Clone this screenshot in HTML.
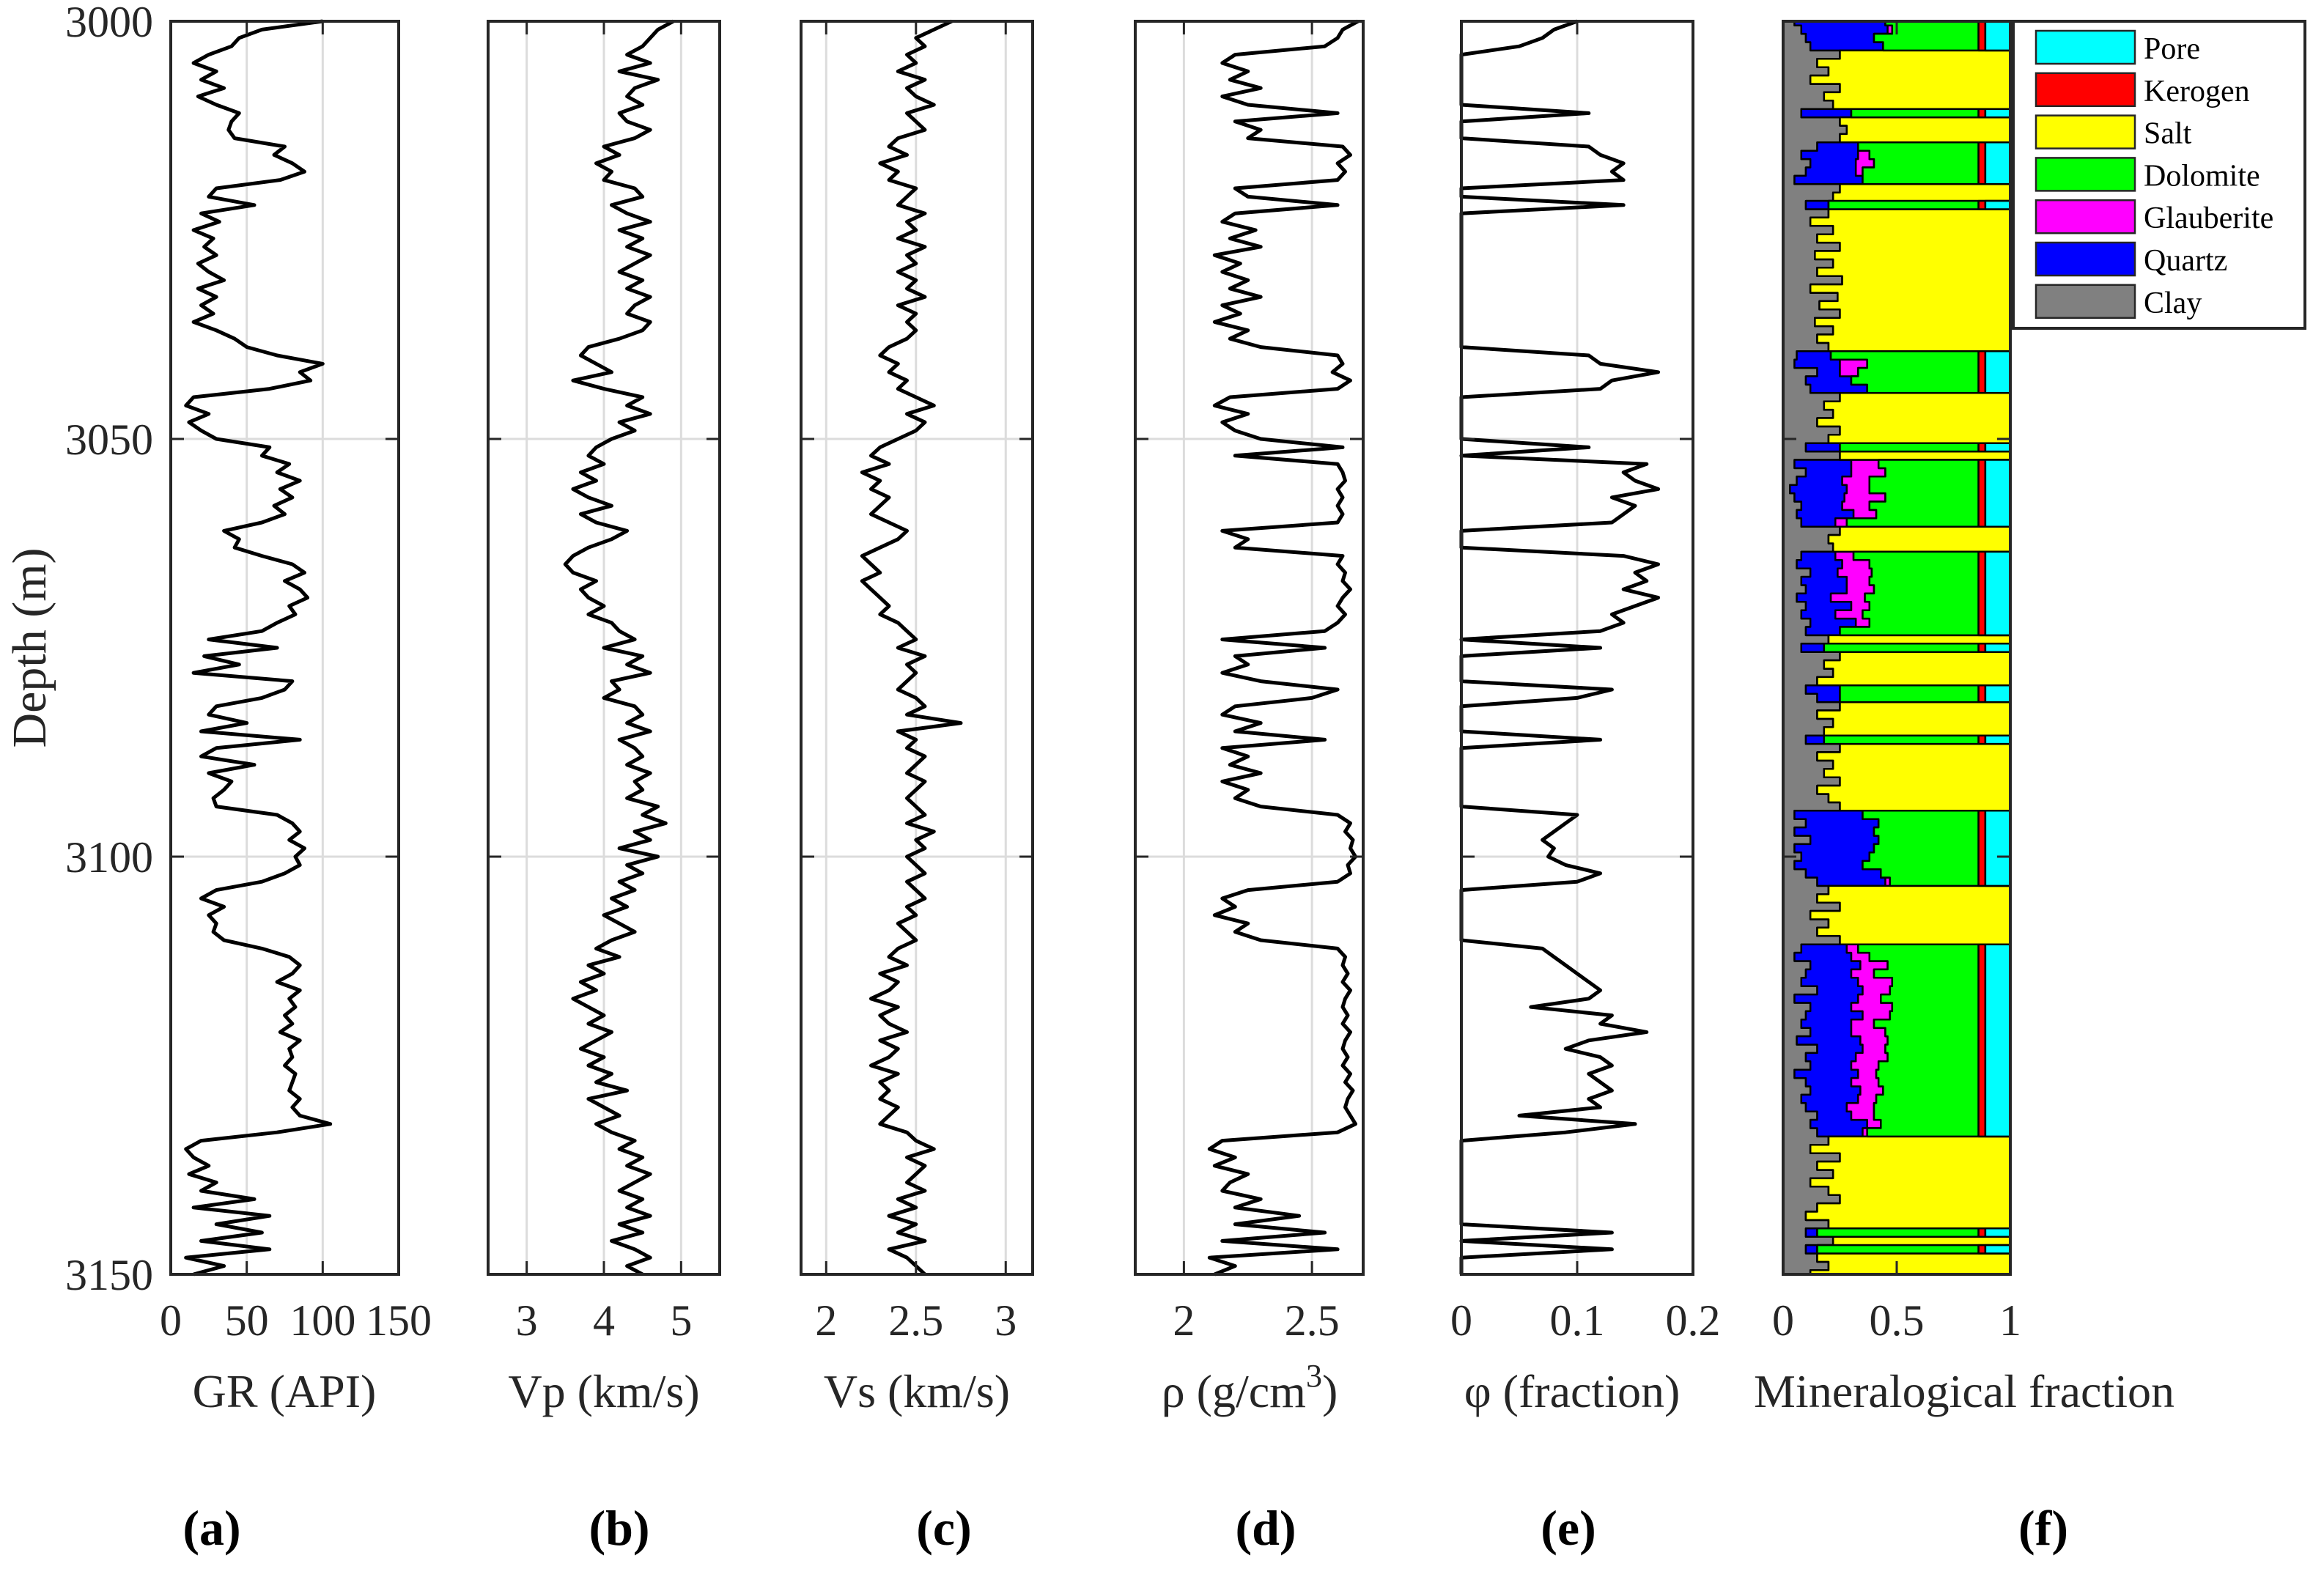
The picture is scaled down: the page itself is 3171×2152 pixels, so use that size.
<!DOCTYPE html>
<html><head><meta charset="utf-8"><style>
html,body{margin:0;padding:0;background:#fff;}
svg{display:block;font-family:"Liberation Serif","Times New Roman",serif;}
</style></head>
<body>
<svg id="fig" width="3171" height="2152" viewBox="0 0 3171 2152" xmlns="http://www.w3.org/2000/svg"></svg>
<script>
// ---- data (1 m sampling, 3000..3150 m) ----
const depthStart = 3000, depthEnd = 3150;
const grValues = [100,60,45,40,25,15,30,20,35,18, 30,45,40,38,42,75,68,80,88,72, 30,25,55,20,32,15,28,22,30,18, 25,35,18,30,20,28,15,30,42,50,
 70,100,85,92,65,15,10,25,12,20, 30,65,60,78,70,85,72,80,68,75, 60,35,45,42,60,80,88,75,85,90, 78,82,70,60,25,70,22,45,15,80,
 75,60,30,25,50,20,85,30,20,55, 25,40,35,28,30,70,80,85,78,88, 82,85,75,60,30,20,35,25,30,28, 35,60,78,85,80,70,85,78,82,75,
 80,72,85,78,80,75,82,80,78,85, 80,85,105,70,20,10,15,25,12,30, 20,55,15,65,30,60,20,65,10,35, 15];
const vpValues = [4.9,4.7,4.6,4.5,4.3,4.6,4.2,4.7,4.4,4.3, 4.5,4.2,4.3,4.6,4.4,4.0,4.2,3.9,4.1,4.0, 4.4,4.5,4.1,4.3,4.6,4.2,4.5,4.3,4.6,4.4,
 4.2,4.5,4.3,4.6,4.4,4.3,4.6,4.5,4.2,3.8, 3.7,3.9,4.1,3.6,4.0,4.5,4.3,4.6,4.2,4.4, 4.1,3.9,3.8,4.0,3.7,3.9,3.6,3.8,4.1,3.7,
 3.9,4.3,4.1,3.8,3.6,3.5,3.6,3.9,3.7,3.8, 4.0,3.8,4.1,4.2,4.4,4.0,4.5,4.3,4.6,4.1, 4.2,4.0,4.4,4.5,4.3,4.6,4.2,4.4,4.5,4.3,
 4.6,4.4,4.5,4.3,4.7,4.5,4.8,4.4,4.6,4.2, 4.7,4.3,4.5,4.2,4.4,4.1,4.3,4.0,4.2,4.4, 4.1,3.9,4.2,3.8,4.0,3.7,3.9,3.6,3.8,4.0,
 3.8,4.1,3.9,3.7,4.0,3.8,4.1,3.9,4.3,3.8, 4.0,4.2,3.9,4.1,4.4,4.2,4.5,4.3,4.6,4.4, 4.2,4.5,4.3,4.6,4.2,4.5,4.1,4.4,4.6,4.3, 4.5];
const vsValues = [2.7,2.6,2.5,2.55,2.45,2.5,2.4,2.55,2.45,2.5, 2.6,2.45,2.5,2.55,2.4,2.35,2.45,2.3,2.4,2.35, 2.5,2.45,2.4,2.55,2.45,2.5,2.4,2.55,2.45,2.5,
 2.4,2.5,2.45,2.55,2.4,2.5,2.45,2.5,2.45,2.35, 2.3,2.4,2.35,2.45,2.4,2.5,2.6,2.45,2.55,2.5, 2.4,2.3,2.25,2.35,2.2,2.3,2.25,2.35,2.3,2.25,
 2.35,2.45,2.4,2.3,2.2,2.25,2.3,2.2,2.25,2.3, 2.35,2.3,2.4,2.45,2.5,2.4,2.55,2.45,2.5,2.45, 2.4,2.5,2.55,2.45,2.75,2.4,2.5,2.45,2.55,2.5,
 2.45,2.55,2.5,2.45,2.5,2.55,2.45,2.6,2.5,2.55, 2.45,2.5,2.55,2.45,2.5,2.55,2.45,2.5,2.4,2.45, 2.5,2.4,2.35,2.45,2.3,2.4,2.35,2.25,2.4,2.3,
 2.35,2.45,2.3,2.4,2.35,2.25,2.4,2.3,2.35,2.3, 2.4,2.35,2.3,2.45,2.5,2.6,2.45,2.55,2.5,2.45, 2.55,2.4,2.5,2.35,2.5,2.4,2.55,2.35,2.45,2.5, 2.55];
const rhoValues = [2.68,2.62,2.6,2.55,2.2,2.15,2.25,2.18,2.3,2.15, 2.25,2.6,2.2,2.3,2.25,2.62,2.65,2.6,2.63,2.6, 2.2,2.25,2.6,2.2,2.15,2.28,2.18,2.3,2.12,2.22,
 2.15,2.25,2.18,2.3,2.15,2.22,2.12,2.25,2.18,2.3, 2.6,2.62,2.58,2.65,2.6,2.18,2.12,2.25,2.15,2.2, 2.3,2.62,2.2,2.6,2.62,2.63,2.6,2.62,2.6,2.62,
 2.6,2.15,2.25,2.2,2.62,2.6,2.63,2.62,2.65,2.62, 2.6,2.63,2.6,2.55,2.15,2.55,2.2,2.25,2.15,2.3, 2.6,2.5,2.2,2.15,2.3,2.2,2.55,2.15,2.25,2.18,
 2.3,2.15,2.25,2.2,2.3,2.6,2.65,2.63,2.66,2.65, 2.67,2.64,2.65,2.6,2.25,2.15,2.2,2.12,2.25,2.2, 2.3,2.6,2.63,2.62,2.64,2.62,2.65,2.63,2.62,2.64,
 2.62,2.65,2.63,2.62,2.64,2.62,2.65,2.63,2.66,2.64, 2.63,2.65,2.67,2.6,2.15,2.1,2.2,2.12,2.25,2.18, 2.15,2.3,2.2,2.45,2.2,2.55,2.15,2.6,2.1,2.2, 2.12];
const phiValues = [0.1,0.08,0.07,0.05,0,0,0,0,0,0, 0,0.11,0,0,0,0.11,0.12,0.14,0.13,0.14, 0,0,0.14,0,0,0,0,0,0,0, 0,0,0,0,0,0,0,0,0,0,
 0.11,0.12,0.17,0.13,0.12,0,0,0,0,0, 0,0.11,0,0.16,0.14,0.15,0.17,0.13,0.15,0.14, 0.13,0,0,0,0.14,0.17,0.15,0.16,0.14,0.17, 0.15,0.13,0.14,0.12,0,0.12,0,0,0,0,
 0.13,0.1,0,0,0,0,0.12,0,0,0, 0,0,0,0,0,0.1,0.09,0.08,0.07,0.08, 0.075,0.09,0.12,0.1,0,0,0,0,0,0, 0,0.07,0.08,0.09,0.1,0.11,0.12,0.11,0.06,0.13,
 0.12,0.16,0.11,0.09,0.12,0.13,0.11,0.12,0.13,0.11, 0.12,0.05,0.15,0.09,0,0,0,0,0,0, 0,0,0,0,0,0.13,0,0.13,0,0, 0];
const clayFrac = [0.05,0.08,0.1,0.12,0.25,0.15,0.2,0.12,0.25,0.18, 0.22,0.08,0.25,0.28,0.25,0.15,0.08,0.12,0.1,0.05, 0.25,0.22,0.1,0.2,0.12,0.22,0.15,0.25,0.14,0.22,
 0.15,0.26,0.12,0.24,0.16,0.25,0.14,0.22,0.15,0.2, 0.06,0.05,0.15,0.1,0.12,0.25,0.18,0.22,0.15,0.25, 0.2,0.1,0.25,0.05,0.1,0.06,0.03,0.05,0.08,0.06,
 0.08,0.25,0.2,0.22,0.08,0.06,0.12,0.08,0.1,0.06, 0.1,0.08,0.12,0.1,0.2,0.08,0.25,0.18,0.22,0.15, 0.1,0.15,0.25,0.15,0.22,0.18,0.1,0.25,0.15,0.22,
 0.18,0.25,0.15,0.2,0.25,0.05,0.1,0.05,0.12,0.05, 0.08,0.05,0.1,0.15,0.2,0.15,0.25,0.12,0.2,0.15, 0.25,0.08,0.05,0.12,0.1,0.08,0.15,0.05,0.12,0.1,
 0.08,0.12,0.06,0.15,0.1,0.12,0.05,0.1,0.12,0.08, 0.1,0.15,0.12,0.15,0.2,0.12,0.25,0.15,0.22,0.12, 0.2,0.25,0.15,0.1,0.2,0.1,0.22,0.1,0.15,0.2, 0.12];
const quartzFrac = [0.4,0.38,0.3,0.32,0,0,0,0,0,0, 0,0.22,0,0,0,0.18,0.25,0.2,0.22,0.3, 0,0,0.1,0,0,0,0,0,0,0, 0,0,0,0,0,0,0,0,0,0,
 0.15,0.2,0.1,0.2,0.25,0,0,0,0,0, 0,0.15,0,0.25,0.2,0.2,0.25,0.22,0.18,0.25, 0.15,0,0,0,0.15,0.2,0.12,0.2,0.18,0.15, 0.2,0.15,0.2,0.15,0,0.1,0,0,0,0,
 0.15,0.1,0,0,0,0,0.08,0,0,0, 0,0,0,0,0,0.3,0.32,0.35,0.3,0.35, 0.3,0.3,0.33,0.3,0,0,0,0,0,0, 0,0.2,0.25,0.22,0.2,0.25,0.2,0.28,0.18,0.25,
 0.22,0.18,0.28,0.2,0.22,0.18,0.28,0.2,0.22,0.25, 0.18,0.15,0.25,0.2,0,0,0,0,0,0, 0,0,0,0,0,0.05,0,0.05,0,0, 0];
const glauberiteFrac = [0,0.02,0,0,0,0,0,0,0,0, 0,0,0,0,0,0,0.05,0.08,0.03,0, 0,0,0,0,0,0,0,0,0,0, 0,0,0,0,0,0,0,0,0,0,
 0,0.12,0.08,0,0,0,0,0,0,0, 0,0,0,0.12,0.15,0.12,0.1,0.18,0.12,0.1, 0.05,0,0,0,0.08,0.12,0.15,0.1,0.12,0.15, 0.08,0.12,0.06,0,0,0,0,0,0,0,
 0,0,0,0,0,0,0,0,0,0, 0,0,0,0,0,0,0,0,0,0, 0,0,0,0.02,0,0,0,0,0,0, 0,0.05,0.08,0.12,0.1,0.15,0.12,0.1,0.18,0.12,
 0.1,0.15,0.12,0.1,0.14,0.12,0.08,0.12,0.1,0.08, 0.12,0.1,0.06,0.02,0,0,0,0,0,0, 0,0,0,0,0,0,0,0,0,0, 0];
const dolomiteFrac = [0.41,0.38,0.46,0.42,0,0,0,0,0,0, 0,0.56,0,0,0,0.53,0.48,0.46,0.51,0.51, 0,0,0.66,0,0,0,0,0,0,0, 0,0,0,0,0,0,0,0,0,0,
 0.65,0.49,0.53,0.56,0.49,0,0,0,0,0, 0,0.61,0,0.44,0.41,0.48,0.48,0.41,0.48,0.45, 0.58,0,0,0,0.55,0.48,0.47,0.48,0.46,0.5, 0.48,0.51,0.48,0.61,0,0.68,0,0,0,0,
 0.61,0.61,0,0,0,0,0.68,0,0,0, 0,0,0,0,0,0.51,0.44,0.46,0.44,0.46, 0.48,0.51,0.43,0.39,0,0,0,0,0,0, 0,0.53,0.48,0.4,0.46,0.38,0.39,0.43,0.38,0.39,
 0.46,0.41,0.4,0.41,0.4,0.44,0.45,0.44,0.42,0.45, 0.46,0.46,0.43,0.49,0,0,0,0,0,0, 0,0,0,0,0,0.71,0,0.71,0,0, 0];
const kerogenFrac = [0.03,0.03,0.03,0.03,0,0,0,0,0,0, 0,0.03,0,0,0,0.03,0.03,0.03,0.03,0.03, 0,0,0.03,0,0,0,0,0,0,0, 0,0,0,0,0,0,0,0,0,0,
 0.03,0.03,0.03,0.03,0.03,0,0,0,0,0, 0,0.03,0,0.03,0.03,0.03,0.03,0.03,0.03,0.03, 0.03,0,0,0,0.03,0.03,0.03,0.03,0.03,0.03, 0.03,0.03,0.03,0.03,0,0.03,0,0,0,0,
 0.03,0.03,0,0,0,0,0.03,0,0,0, 0,0,0,0,0,0.03,0.03,0.03,0.03,0.03, 0.03,0.03,0.03,0.03,0,0,0,0,0,0, 0,0.03,0.03,0.03,0.03,0.03,0.03,0.03,0.03,0.03,
 0.03,0.03,0.03,0.03,0.03,0.03,0.03,0.03,0.03,0.03, 0.03,0.03,0.03,0.03,0,0,0,0,0,0, 0,0,0,0,0,0.03,0,0.03,0,0, 0];
const poreFrac = [0.11,0.11,0.11,0.11,0,0,0,0,0,0, 0,0.11,0,0,0,0.11,0.11,0.11,0.11,0.11, 0,0,0.11,0,0,0,0,0,0,0, 0,0,0,0,0,0,0,0,0,0,
 0.11,0.11,0.11,0.11,0.11,0,0,0,0,0, 0,0.11,0,0.11,0.11,0.11,0.11,0.11,0.11,0.11, 0.11,0,0,0,0.11,0.11,0.11,0.11,0.11,0.11, 0.11,0.11,0.11,0.11,0,0.11,0,0,0,0,
 0.11,0.11,0,0,0,0,0.11,0,0,0, 0,0,0,0,0,0.11,0.11,0.11,0.11,0.11, 0.11,0.11,0.11,0.11,0,0,0,0,0,0, 0,0.11,0.11,0.11,0.11,0.11,0.11,0.11,0.11,0.11,
 0.11,0.11,0.11,0.11,0.11,0.11,0.11,0.11,0.11,0.11, 0.11,0.11,0.11,0.11,0,0,0,0,0,0, 0,0,0,0,0,0.11,0,0.11,0,0, 0];
const depthTicks = [3000,3050,3100,3150];
const legendLabels = ["Pore","Kerogen","Salt","Dolomite","Glauberite","Quartz","Clay"];

// ---- layout ----
const NS = "http://www.w3.org/2000/svg";
const svg = document.getElementById('fig');
const TOP = 29, BOT = 1739;
function yOf(d){ return TOP + (d - depthStart) * (BOT - TOP) / (depthEnd - depthStart); }
function clampD(d){ return Math.max(depthStart, Math.min(depthEnd, d)); }
function mk(tag, attrs, parent){ const e = document.createElementNS(NS, tag); for (const k in attrs) e.setAttribute(k, attrs[k]); (parent||svg).appendChild(e); return e; }

const panels = [
 {key:'gr', x0:233, x1:544, min:0, max:150, ticks:[0,50,100,150], tl:['0','50','100','150'], data:grValues, label:'GR (API)', letter:'(a)', lx:289, labx:388},
 {key:'vp', x0:666, x1:982, min:2.5, max:5.5, ticks:[3,4,5], tl:['3','4','5'], data:vpValues, label:'Vp (km/s)', letter:'(b)', lx:845, labx:824},
 {key:'vs', x0:1093, x1:1409, min:1.86, max:3.15, ticks:[2,2.5,3], tl:['2','2.5','3'], data:vsValues, label:'Vs (km/s)', letter:'(c)', lx:1288, labx:1251},
 {key:'rho', x0:1549, x1:1860, min:1.81, max:2.70, ticks:[2,2.5], tl:['2','2.5'], data:rhoValues, label:'rho', letter:'(d)', lx:1727, labx:1705},
 {key:'phi', x0:1994, x1:2310, min:0, max:0.2, ticks:[0,0.1,0.2], tl:['0','0.1','0.2'], data:phiValues, label:'φ (fraction)', letter:'(e)', lx:2140, labx:2145},
 {key:'min', x0:2433, x1:2743, min:0, max:1, ticks:[0,0.5,1], tl:['0','0.5','1'], data:null, label:'Mineralogical fraction', letter:'(f)', lx:2788, labx:2680}
];

panels.forEach(p => {
  const g = mk('g', {});
  
  
  const xOf = v => p.x0 + (v - p.min) * (p.x1 - p.x0) / (p.max - p.min);
  p.ticks.forEach(t => { const x = xOf(t); if (x > p.x0 + 2 && x < p.x1 - 2) { const l = mk('line', {x1:x, x2:x, y1:TOP, y2:BOT, stroke:'#dcdcdc', 'stroke-width':3}, g);   } });
  [3050,3100].forEach(d => { const l = mk('line', {x1:p.x0, x2:p.x1, y1:yOf(d), y2:yOf(d), stroke:'#dcdcdc', 'stroke-width':3}, g);   });
  if (p.data) {
    const pts = p.data.map((v,i) => xOf(v).toFixed(1) + ',' + yOf(depthStart + i).toFixed(1)).join(' ');
    const pl = mk('polyline', {points: pts, fill:'none', stroke:'#000', 'stroke-width':5, 'stroke-linejoin':'round'}, g);
    
    
  } else {
    const comps = [
      {name:'clay', arr:clayFrac, col:'#808080'},
      {name:'quartz', arr:quartzFrac, col:'#0000ff'},
      {name:'glauberite', arr:glauberiteFrac, col:'#ff00ff'},
      {name:'salt', arr:null, col:'#ffff00'},
      {name:'dolomite', arr:dolomiteFrac, col:'#00ff00'},
      {name:'kerogen', arr:kerogenFrac, col:'#ff0000'},
      {name:'pore', arr:poreFrac, col:'#00ffff'}
    ];
    const n = clayFrac.length;
    const saltArr = [];
    for (let i = 0; i < n; i++) saltArr.push(Math.max(0, 1 - clayFrac[i] - quartzFrac[i] - glauberiteFrac[i] - dolomiteFrac[i] - kerogenFrac[i] - poreFrac[i]));
    comps[3].arr = saltArr;
    const stepPts = arr => {
      const out = [];
      arr.forEach((v,i) => {
        const x = xOf(v).toFixed(1);
        out.push(x + ',' + yOf(clampD(depthStart + i - 0.5)).toFixed(1));
        out.push(x + ',' + yOf(clampD(depthStart + i + 0.5)).toFixed(1));
      });
      return out;
    };
    let left = new Array(n).fill(0);
    comps.forEach((c, ci) => {
      const right = left.map((l,i) => ci === comps.length - 1 ? 1 : Math.min(1, l + c.arr[i]));
      const fwd = stepPts(right);
      const back = stepPts(left).reverse();
      const poly = mk('polygon', {points: fwd.concat(back).join(' '), fill:c.col, stroke:'#000', 'stroke-width':2.5, 'stroke-linejoin':'round'}, g);
      
      
      left = right;
    });
  }
  const fr = mk('rect', {x:p.x0, y:TOP, width:p.x1-p.x0, height:BOT-TOP, fill:'none', stroke:'#262626', 'stroke-width':4}, g);
  
  
  p.ticks.forEach((t,ti) => {
    const x = xOf(t);
    mk('line', {x1:x, x2:x, y1:BOT, y2:BOT-18, stroke:'#262626', 'stroke-width':3}, g);
    mk('line', {x1:x, x2:x, y1:TOP, y2:TOP+18, stroke:'#262626', 'stroke-width':3}, g);
    const tx = mk('text', {x:x, y:1822, 'font-size':60, 'text-anchor':'middle', fill:'#262626'}, g);
    tx.textContent = p.tl[ti];
    
    
  });
  depthTicks.forEach(d => {
    mk('line', {x1:p.x0, x2:p.x0+18, y1:yOf(d), y2:yOf(d), stroke:'#262626', 'stroke-width':3}, g);
    mk('line', {x1:p.x1, x2:p.x1-18, y1:yOf(d), y2:yOf(d), stroke:'#262626', 'stroke-width':3}, g);
  });
  const lab = mk('text', {x: p.labx, y:1920, 'font-size':64, 'text-anchor':'middle', fill:'#262626'}, g);
  if (p.key === 'rho') {
    lab.innerHTML = 'ρ (g/cm<tspan dy="-28" font-size="44">3</tspan><tspan dy="28">)</tspan>';
  } else {
    lab.textContent = p.label;
  }
  
  
  const let_ = mk('text', {x:p.lx, y:2108, 'font-size':68, 'font-weight':'bold', 'text-anchor':'middle', fill:'#000'}, g);
  let_.textContent = p.letter;
  
  
});

depthTicks.forEach(d => {
  const t = mk('text', {x:209, y:yOf(d)+21, 'font-size':60, 'text-anchor':'end', fill:'#262626'});
  t.textContent = String(d);
  
  
});
const yt = mk('text', {x:0, y:0, 'font-size':66, 'text-anchor':'middle', fill:'#262626', transform:'translate(62,884) rotate(-90)'});
yt.textContent = 'Depth (m)';



const lg = mk('g', {});


mk('rect', {x:2747, y:29, width:398, height:419, fill:'#fff', stroke:'#262626', 'stroke-width':4}, lg);
const legendColors = {Pore:'#00ffff',Kerogen:'#ff0000',Salt:'#ffff00',Dolomite:'#00ff00',Glauberite:'#ff00ff',Quartz:'#0000ff',Clay:'#808080'};
legendLabels.forEach((name, i) => {
  const y0 = 42 + i * 57.8;
  const e = mk('g', {}, lg);
  
  
  mk('rect', {x:2778, y:y0, width:135, height:45, fill:legendColors[name], stroke:'#262626', 'stroke-width':2.5}, e);
  const t = mk('text', {x:2925, y:y0+38, 'font-size':42, fill:'#000'}, e);
  t.textContent = name;
});
</script>
</body></html>
